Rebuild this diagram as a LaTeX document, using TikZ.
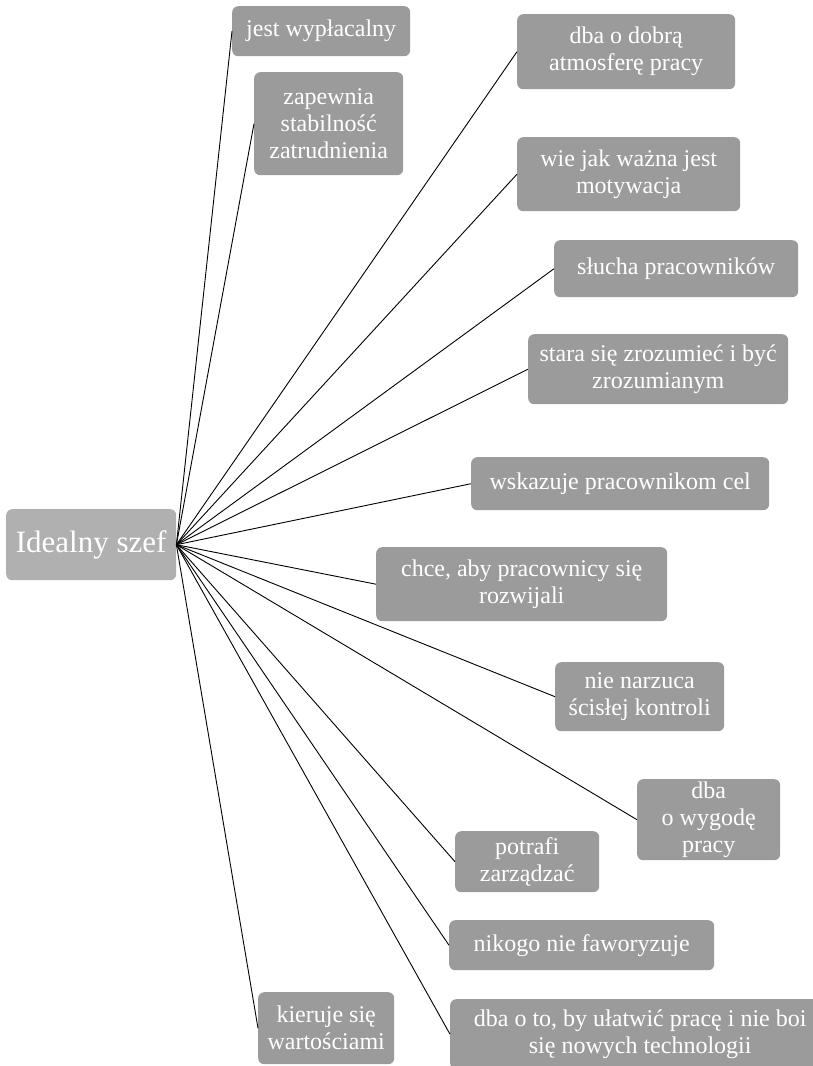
\documentclass[tikz,border=0pt]{standalone}
\usepackage{fontspec}
\setmainfont{Liberation Serif}
\usetikzlibrary{positioning}
\definecolor{boxgray}{RGB}{155,155,155}
\definecolor{rootgray}{RGB}{176,176,176}

\begin{document}
\begin{tikzpicture}[
        x=1pt, y=-1pt,
        every node/.style={align=center},
        leaf/.style={rectangle, rounded corners=6pt, fill=boxgray, text=white,
                     anchor=north west, inner sep=0pt,
                     font=\fontsize{24}{27}\selectfont},
        root/.style={rectangle, rounded corners=6pt, fill=rootgray, text=white,
                     anchor=north west, inner sep=0pt,
                     font=\fontsize{31}{36}\selectfont},
        spoke/.style={draw=black, line width=0.9pt}
    ]
        % Page frame, the last box runs off the page
        \clip (0,0) rectangle (813,1066);
        \fill[white] (0,0) rectangle (813,1066);

        % Central node
        \node [root, minimum width=170pt, minimum height=71pt] (szef) at (6,509) {Idealny szef};

        % Qualities, top to bottom
        \node [leaf, minimum width=178pt, minimum height=50pt] (wyplacalny) at (232,6) {jest wypłacalny};
        \node [leaf, minimum width=149pt, minimum height=103pt] (stabilnosc) at (254,72) {zapewnia\\stabilność\\zatrudnienia};
        \node [leaf, minimum width=218pt, minimum height=75pt] (atmosfera) at (517,14) {dba o dobrą\\atmosferę pracy};
        \node [leaf, minimum width=223pt, minimum height=74pt] (motywacja) at (517,137) {wie jak ważna jest\\motywacja};
        \node [leaf, minimum width=244pt, minimum height=57pt] (slucha) at (554,240) {słucha pracowników};
        \node [leaf, minimum width=260pt, minimum height=70pt] (zrozumiec) at (528,334) {stara się zrozumieć i być\\zrozumianym};
        \node [leaf, minimum width=298pt, minimum height=53pt] (cel) at (471,457) {wskazuje pracownikom cel};
        \node [leaf, minimum width=291pt, minimum height=74pt] (rozwoj) at (376,547) {chce, aby pracownicy się\\rozwijali};
        \node [leaf, minimum width=169pt, minimum height=69pt] (kontrola) at (555,662) {nie narzuca\\ścisłej kontroli};
        \node [leaf, minimum width=143pt, minimum height=81pt] (wygoda) at (637,779) {dba\\o wygodę\\pracy};
        \node [leaf, minimum width=144pt, minimum height=61pt] (zarzadzac) at (455,831) {potrafi\\zarządzać};
        \node [leaf, minimum width=265pt, minimum height=50pt] (faworyzuje) at (449,920) {nikogo nie faworyzuje};
        \node [leaf, minimum width=380pt, minimum height=70pt] (technologie) at (450,999) {dba o to, by ułatwić pracę i nie boi\\się nowych technologii};
        \node [leaf, minimum width=136pt, minimum height=72pt] (wartosci) at (258,992) {kieruje się\\wartościami};

        % Spokes from the central node
        \foreach \n in {wyplacalny, stabilnosc, atmosfera, motywacja, slucha, zrozumiec,
                        cel, rozwoj, kontrola, wygoda, zarzadzac, faworyzuje, technologie, wartosci}
            \draw[spoke] (szef.east) -- (\n.west);
    \end{tikzpicture}
\end{document}
